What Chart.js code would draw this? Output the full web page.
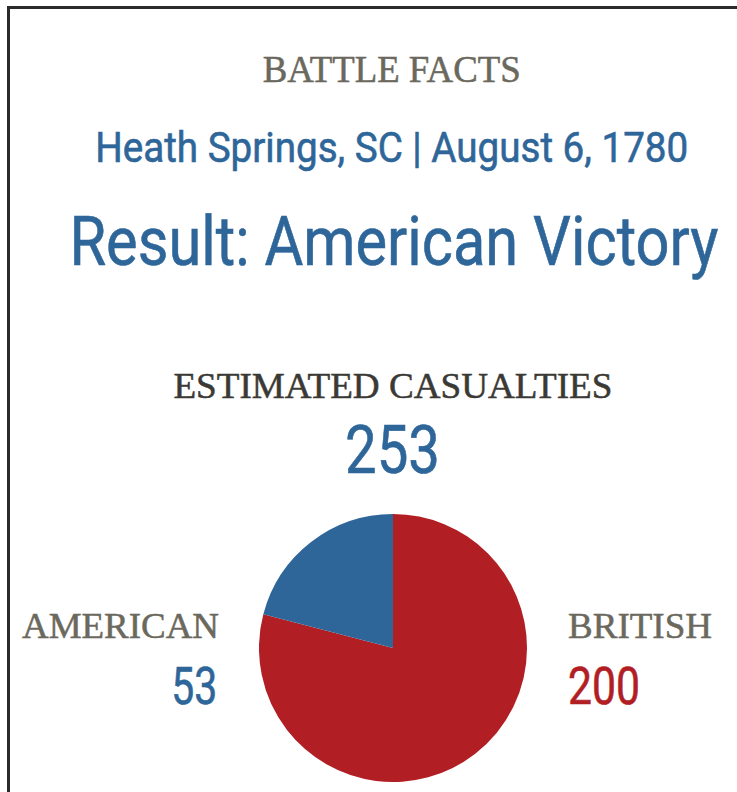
<!DOCTYPE html>
<html>
<head>
<meta charset="utf-8">
<script src="https://cdn.jsdelivr.net/npm/chart.js@4"></script>
<style>
  html, body { margin: 0; padding: 0; background: #fff; }
  body { width: 737px; height: 792px; position: relative; overflow: hidden; }
  .frame { position: absolute; left: 7px; top: 6px; width: 760px; height: 820px;
           border-left: 3px solid #2b2b2b; border-top: 3px solid #2b2b2b; }
  .txt { position: absolute; white-space: nowrap; line-height: 1; }
  .serif { font-family: "Liberation Serif", "Times New Roman", serif; -webkit-text-stroke: 0.5px currentColor; }
  .sans { font-family: Roboto, "Liberation Sans", sans-serif; -webkit-text-stroke: 0.6px currentColor; }
  #pieBox { position: absolute; left: 259px; top: 514px; width: 268px; height: 268px; }
</style>
</head>
<body>
<div class="frame"></div>
<div id="texts"></div>
<div id="pieBox"><canvas id="casualtyChart"></canvas></div>

<script>
const sides = ['British', 'American'];
const casualties = [200, 53];
const sideColors = ['#b11e24', '#2e6699'];

const totalCasualties = casualties.reduce((a, b) => a + b, 0);

// baseline offset inside a line-height:1 box, per font
const baseRatio = { serif: 0.837, sans: 0.842 };

// text blocks: x anchor, baseline y, target width
const labels = [
  { text: 'BATTLE FACTS', cls: 'serif', size: 37, color: '#6b685d', x: 392, base: 82, w: 258, align: 'center' },
  { text: 'Heath Springs, SC | August 6, 1780', cls: 'sans', size: 42, color: '#2e6699', x: 392, base: 162, w: 593, align: 'center' },
  { text: 'Result: American Victory', cls: 'sans', size: 69, color: '#2e6699', x: 393.5, base: 265, w: 649, align: 'center' },
  { text: 'ESTIMATED CASUALTIES', cls: 'serif', size: 35, color: '#3a3935', x: 392.5, base: 398, w: 439, align: 'center' },
  { text: String(totalCasualties), cls: 'sans', size: 67, color: '#2e6699', x: 392.5, base: 473, w: 95, align: 'center' },
  { text: sides[1].toUpperCase(), cls: 'serif', size: 36, color: '#6b685d', x: 219, base: 638, w: 197, align: 'right' },
  { text: String(casualties[1]), cls: 'sans', size: 51, color: sideColors[1], x: 217, base: 704, w: 46, align: 'right' },
  { text: sides[0].toUpperCase(), cls: 'serif', size: 36, color: '#6b685d', x: 568, base: 638, w: 144, align: 'left' },
  { text: String(casualties[0]), cls: 'sans', size: 51, color: sideColors[0], x: 568, base: 704, w: 72, align: 'left' }
];

const holder = document.getElementById('texts');
labels.forEach(l => {
  const el = document.createElement('div');
  el.className = 'txt ' + l.cls;
  el.textContent = l.text;
  el.style.fontSize = l.size + 'px';
  el.style.color = l.color;
  holder.appendChild(el);
  const natural = el.getBoundingClientRect().width;
  const sx = l.w / natural;
  let left = l.x;
  if (l.align === 'center') left = l.x - natural / 2;
  if (l.align === 'right') left = l.x - natural;
  el.style.left = left + 'px';
  el.style.top = (l.base - baseRatio[l.cls] * l.size) + 'px';
  el.style.transformOrigin = l.align === 'center' ? '50% 50%' : (l.align === 'right' ? '100% 50%' : '0 50%');
  el.style.transform = 'scaleX(' + sx + ')';
});

new Chart(document.getElementById('casualtyChart'), {
  type: 'pie',
  data: {
    labels: sides,
    datasets: [{
      data: casualties,
      backgroundColor: sideColors,
      borderWidth: 0
    }]
  },
  options: {
    responsive: true,
    maintainAspectRatio: false,
    animation: false,
    layout: { padding: 0 },
    plugins: {
      legend: { display: false },
      tooltip: { enabled: false }
    }
  }
});
</script>
</body>
</html>
